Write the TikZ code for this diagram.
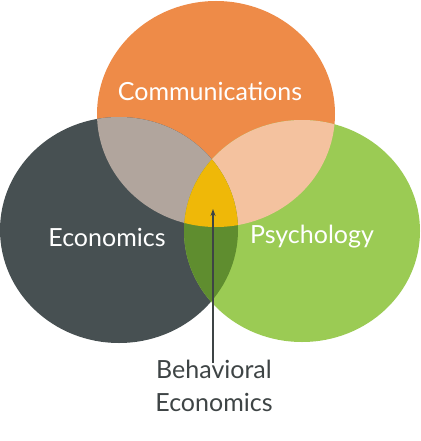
\documentclass[tikz,border=0pt]{standalone}
\usepackage{fontspec}
\setmainfont{Lato}
\usetikzlibrary{arrows.meta}
\definecolor{corange}{HTML}{EE8B48}
\definecolor{cgray}{HTML}{475052}
\definecolor{cgreen}{HTML}{9BCB54}
\definecolor{cog}{HTML}{B1A59D}
\definecolor{cogr}{HTML}{F4C29F}
\definecolor{cggr}{HTML}{5F8D2F}
\definecolor{ccenter}{HTML}{EFB808}
\definecolor{ctext}{HTML}{3E4445}
\tikzset{
  lbl/.style={text=white, font=\fontsize{25}{28}\selectfont, inner sep=0pt},
  blbl/.style={text=ctext, font=\fontsize{25}{33}\selectfont, align=center, inner sep=0pt},
}
\def\eO{(216,-114) ellipse [x radius=119, y radius=113]}
\def\eE{(119,-230) ellipse [x radius=119, y radius=113]}
\def\eP{(302,-231) ellipse [x radius=118, y radius=111]}
\begin{document}
\begin{tikzpicture}[x=1pt,y=1pt]
\useasboundingbox (0,0) rectangle (420,-441);
\fill[white] (0,0) rectangle (420,-441);
\fill[corange] \eO;
\fill[cgray] \eE;
\fill[cgreen] \eP;
\begin{scope}\clip \eO; \fill[cog] \eE; \fill[cogr] \eP; \end{scope}
\begin{scope}\clip \eE; \fill[cggr] \eP; \end{scope}
\begin{scope}\clip \eO; \clip \eE; \fill[ccenter] \eP; \end{scope}
\node[lbl] (comm) at (210,-91) {Communications};
\node[lbl] (econ) at (107,-237) {Economics};
\node[lbl] (psych) at (312,-237) {Psychology};
\node[blbl] (beh) at (214,-386) {Behavioral\\Economics};
\coordinate (tip) at (213,-209);
\draw[ctext, line width=1.3pt, -{Stealth[length=7pt,width=5pt]}] (beh.north -| tip) ++(0,-3) -- (tip);
\end{tikzpicture}
\end{document}
